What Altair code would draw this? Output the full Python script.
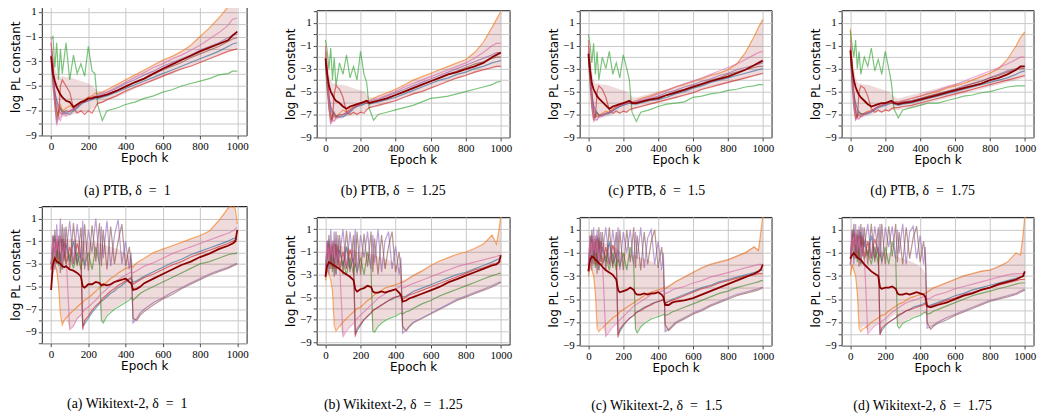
import math
import altair as alt
import pandas as pd

# ---------------- data ----------------
EPOCH_PTB = [0, 10, 20, 30, 40, 50, 60, 80, 100, 120, 140, 160, 180, 200, 220, 235, 250, 275,
             300, 350, 400, 450, 500, 550, 600, 650, 700, 750, 800, 850, 900, 950, 975, 1000]
EPOCH_WIKI = [0, 10, 20, 30, 40, 50, 60, 70, 80, 100, 120, 140, 160, 170, 180, 200, 220, 240,
              260, 270, 280, 300, 320, 340, 360, 380, 400, 420, 430, 440, 460, 480, 500, 550,
              600, 650, 700, 750, 800, 850, 900, 950, 975, 990, 1000]
RUNS = ["blue", "orange", "green", "red", "purple", "brown", "pink"]
RUN_COLORS = ["#1f77b4", "#ff7f0e", "#2ca02c", "#d62728", "#9467bd", "#8c564b", "#e377c2"]

PTB_A = dict(
    blue=[-3.0,-4.5,-5.5,-6.2,-6.6,-6.8,-7.0,-7.2,-7.3,-7.0,-6.8,-6.5,-6.3,-6.2,-6.1,-6.0,-6.0,-5.9,-5.8,-5.5,-5.2,-4.9,-4.6,-4.3,-4.0,-3.7,-3.4,-3.1,-2.8,-2.5,-2.2,-1.8,-1.6,-1.5],
    orange=[-1.5,-3.5,-6.0,-7.5,-7.0,-6.5,-7.0,-6.8,-6.6,-6.8,-6.5,-6.3,-6.1,-5.9,-5.8,-5.6,-5.6,-5.5,-5.3,-4.9,-4.5,-4.1,-3.7,-3.3,-2.9,-2.6,-2.2,-1.7,-1.0,-0.3,0.5,1.4,1.9,2.3],
    green=[-1.2,-1.0,-3.5,-1.5,-4.5,-2.0,-4.0,-1.5,-4.5,-2.5,-4.0,-3.2,-4.2,-1.8,-3.8,-4.0,-6.5,-7.8,-7.0,-6.8,-6.5,-6.3,-6.0,-5.8,-5.5,-5.3,-5.0,-4.8,-4.6,-4.4,-4.1,-4.0,-3.8,-3.8],
    red=[-1.5,-3.0,-6.0,-7.0,-7.5,-5.0,-4.5,-5.0,-5.5,-6.8,-7.2,-7.0,-7.3,-7.0,-7.2,-6.8,-6.4,-6.3,-6.1,-5.8,-5.4,-5.1,-4.8,-4.5,-4.2,-3.9,-3.6,-3.4,-3.1,-2.8,-2.5,-2.2,-2.1,-2.0],
    purple=[-2.0,-3.5,-5.5,-6.5,-7.0,-7.2,-7.3,-7.2,-7.0,-6.8,-6.6,-6.4,-6.2,-6.1,-6.0,-5.9,-5.8,-5.7,-5.5,-5.2,-4.8,-4.5,-4.1,-3.8,-3.4,-3.1,-2.8,-2.5,-2.1,-1.8,-1.5,-1.1,-0.9,-0.8],
    brown=[-2.5,-5.0,-6.5,-8.0,-7.0,-6.8,-7.2,-7.0,-7.1,-6.9,-6.7,-6.4,-6.3,-6.1,-6.0,-5.9,-5.9,-5.8,-5.7,-5.4,-5.0,-4.7,-4.4,-4.0,-3.7,-3.4,-3.1,-2.7,-2.4,-2.1,-1.8,-1.4,-1.2,-1.1],
    pink=[-1.0,-4.0,-6.5,-8.2,-7.5,-7.8,-7.2,-7.4,-7.0,-6.9,-6.6,-6.4,-6.2,-6.1,-5.9,-5.8,-5.7,-5.6,-5.5,-5.1,-4.7,-4.3,-3.9,-3.5,-3.2,-2.8,-2.5,-2.1,-1.7,-1.2,-0.7,-0.1,0.4,0.5],
    mean=[-2.6,-4.0,-4.6,-5.1,-5.4,-5.7,-5.9,-6.2,-6.3,-6.7,-6.5,-6.3,-6.2,-6.0,-6.0,-5.9,-5.9,-5.8,-5.7,-5.4,-5.05,-4.7,-4.4,-4.0,-3.6,-3.25,-2.9,-2.55,-2.2,-1.9,-1.6,-1.3,-0.9,-0.6],
    lo=[-3.5,-5.5,-7.0,-7.8,-7.8,-7.6,-7.5,-7.5,-7.4,-7.3,-7.2,-7.1,-7.1,-7.0,-6.9,-6.7,-6.5,-6.4,-6.2,-5.9,-5.6,-5.2,-4.9,-4.6,-4.3,-4.0,-3.7,-3.4,-3.1,-2.8,-2.5,-2.2,-2.1,-2.0],
    hi=[-1.5,-2.5,-3.5,-4.0,-4.3,-4.3,-4.2,-4.3,-4.3,-4.4,-4.5,-4.6,-4.7,-4.8,-5.0,-5.2,-5.4,-5.4,-5.3,-4.9,-4.5,-4.1,-3.7,-3.3,-2.9,-2.6,-2.2,-1.7,-1.0,-0.3,0.5,1.4,1.9,2.3],
)
PTB_B = dict(
    blue=[-2.5,-4.5,-5.5,-6.3,-6.7,-7.0,-7.1,-7.2,-7.2,-7.0,-6.8,-6.5,-6.3,-6.2,-6.1,-6.0,-6.1,-6.0,-5.9,-5.7,-5.5,-5.2,-4.9,-4.6,-4.3,-4.0,-3.8,-3.5,-3.3,-3.0,-2.8,-2.5,-2.4,-2.3],
    orange=[-1.0,-4.0,-6.5,-7.5,-7.3,-7.0,-7.2,-6.9,-6.6,-6.8,-6.5,-6.3,-6.2,-6.0,-5.9,-5.8,-5.8,-5.6,-5.4,-5.1,-4.8,-4.4,-4.0,-3.7,-3.4,-3.1,-2.8,-2.5,-2.2,-1.6,-0.7,0.6,1.3,2.0],
    green=[-0.5,-1.5,-3.0,-1.2,-4.0,-2.0,-4.5,-2.5,-3.5,-1.8,-3.8,-2.8,-4.0,-1.5,-3.5,-4.2,-6.5,-7.5,-7.0,-6.8,-6.6,-6.4,-6.2,-5.9,-5.6,-5.5,-5.4,-5.2,-5.0,-4.8,-4.6,-4.4,-4.2,-4.1],
    red=[-1.5,-3.0,-5.5,-7.0,-7.5,-5.2,-4.5,-4.8,-5.5,-6.8,-7.0,-6.8,-7.0,-6.8,-6.9,-6.6,-6.4,-6.3,-6.2,-6.0,-5.8,-5.5,-5.2,-5.0,-4.7,-4.4,-4.1,-3.8,-3.6,-3.3,-3.1,-2.9,-2.8,-2.8],
    purple=[-2.0,-3.5,-5.5,-6.5,-7.0,-7.2,-7.3,-7.2,-7.0,-6.8,-6.6,-6.4,-6.2,-6.1,-6.0,-5.9,-5.9,-5.8,-5.7,-5.4,-5.1,-4.8,-4.5,-4.2,-3.9,-3.6,-3.3,-3.0,-2.7,-2.4,-2.1,-1.8,-1.6,-1.6],
    brown=[-2.5,-5.0,-6.5,-7.8,-7.0,-6.8,-7.2,-7.0,-7.0,-6.9,-6.7,-6.4,-6.3,-6.1,-6.0,-6.0,-6.0,-5.9,-5.8,-5.6,-5.3,-5.0,-4.7,-4.4,-4.1,-3.8,-3.5,-3.2,-2.9,-2.6,-2.4,-2.1,-2.0,-2.0],
    pink=[-1.0,-3.5,-6.0,-7.8,-7.5,-7.6,-7.3,-7.2,-7.0,-6.9,-6.6,-6.4,-6.2,-6.1,-5.9,-5.8,-5.8,-5.7,-5.6,-5.3,-5.0,-4.6,-4.3,-4.0,-3.7,-3.4,-3.1,-2.8,-2.5,-2.1,-1.6,-1.0,-0.8,-0.8],
    mean=[-2.1,-3.5,-4.5,-5.0,-5.3,-5.6,-5.8,-6.0,-6.3,-6.5,-6.3,-6.2,-6.1,-6.0,-5.9,-5.8,-6.0,-5.9,-5.8,-5.6,-5.3,-5.0,-4.7,-4.4,-4.1,-3.8,-3.5,-3.3,-3.05,-2.8,-2.5,-2.0,-1.8,-1.6],
    lo=[-3.0,-5.0,-6.8,-7.6,-7.7,-7.6,-7.5,-7.4,-7.3,-7.2,-7.1,-7.0,-7.0,-6.9,-6.8,-6.6,-6.5,-6.4,-6.3,-6.1,-5.8,-5.5,-5.3,-5.0,-4.7,-4.4,-4.1,-3.9,-3.6,-3.4,-3.2,-3.0,-2.9,-2.9],
    hi=[-1.0,-2.0,-3.3,-4.0,-4.3,-4.3,-4.3,-4.4,-4.4,-4.5,-4.6,-4.7,-4.8,-4.9,-5.0,-5.2,-5.5,-5.5,-5.4,-5.1,-4.8,-4.4,-4.0,-3.7,-3.4,-3.1,-2.8,-2.5,-2.2,-1.6,-0.7,0.6,1.3,2.0],
)
PTB_C = dict(
    blue=[-2.0,-4.0,-5.3,-6.2,-6.6,-6.9,-7.0,-7.1,-7.0,-6.9,-6.7,-6.5,-6.3,-6.2,-6.1,-6.0,-6.1,-6.1,-6.0,-5.8,-5.7,-5.5,-5.2,-5.0,-4.7,-4.5,-4.2,-4.0,-3.8,-3.6,-3.4,-3.2,-3.1,-3.0],
    orange=[-0.5,-3.5,-6.0,-7.3,-7.2,-7.0,-7.1,-6.9,-6.7,-6.8,-6.5,-6.3,-6.2,-6.0,-5.9,-5.9,-5.9,-5.8,-5.6,-5.4,-5.1,-4.9,-4.6,-4.4,-4.1,-3.9,-3.6,-3.4,-3.1,-2.6,-1.6,-0.2,0.6,1.3],
    green=[0.0,-1.0,-2.5,-0.8,-3.5,-1.5,-4.0,-2.0,-3.0,-1.5,-3.5,-2.5,-3.8,-1.8,-3.0,-4.0,-6.8,-7.6,-6.8,-6.6,-6.3,-6.1,-6.0,-5.9,-5.5,-5.4,-5.2,-5.1,-4.9,-4.8,-4.6,-4.5,-4.4,-4.4],
    red=[-1.0,-2.5,-5.0,-6.8,-7.3,-5.0,-4.5,-4.8,-5.5,-6.6,-6.9,-6.7,-6.9,-6.7,-6.8,-6.6,-6.5,-6.4,-6.3,-6.1,-5.9,-5.7,-5.5,-5.3,-5.1,-4.8,-4.6,-4.4,-4.2,-4.0,-3.8,-3.6,-3.5,-3.4],
    purple=[-1.5,-3.5,-5.5,-6.5,-7.0,-7.2,-7.2,-7.1,-6.9,-6.8,-6.6,-6.4,-6.2,-6.1,-6.0,-6.0,-6.0,-5.9,-5.8,-5.6,-5.4,-5.1,-4.9,-4.6,-4.4,-4.1,-3.9,-3.6,-3.4,-3.1,-2.9,-2.7,-2.6,-2.5],
    brown=[-2.0,-4.5,-6.5,-7.5,-7.0,-6.8,-7.1,-7.0,-6.9,-6.8,-6.6,-6.4,-6.3,-6.1,-6.0,-6.0,-6.0,-6.0,-5.9,-5.7,-5.5,-5.3,-5.0,-4.8,-4.5,-4.3,-4.0,-3.8,-3.5,-3.3,-3.1,-2.9,-2.8,-2.8],
    pink=[-0.5,-3.0,-5.8,-7.6,-7.4,-7.5,-7.2,-7.1,-6.9,-6.8,-6.6,-6.4,-6.2,-6.1,-6.0,-5.9,-5.9,-5.8,-5.7,-5.5,-5.2,-4.9,-4.6,-4.3,-4.1,-3.8,-3.5,-3.2,-2.9,-2.6,-2.2,-1.8,-1.6,-1.5],
    mean=[-1.7,-3.2,-4.3,-4.8,-5.1,-5.4,-5.6,-5.9,-6.2,-6.5,-6.3,-6.2,-6.1,-6.0,-5.9,-5.8,-6.0,-6.0,-5.9,-5.7,-5.6,-5.3,-5.1,-4.85,-4.6,-4.35,-4.1,-3.9,-3.7,-3.4,-3.1,-2.7,-2.5,-2.3],
    lo=[-2.8,-4.8,-6.6,-7.5,-7.6,-7.5,-7.4,-7.3,-7.2,-7.1,-7.0,-6.9,-6.9,-6.8,-6.8,-6.6,-6.6,-6.5,-6.4,-6.2,-6.0,-5.8,-5.6,-5.4,-5.2,-4.9,-4.7,-4.5,-4.3,-4.1,-3.9,-3.7,-3.6,-3.5],
    hi=[-0.5,-1.8,-3.2,-4.0,-4.3,-4.3,-4.3,-4.4,-4.4,-4.5,-4.6,-4.7,-4.8,-4.9,-5.0,-5.2,-5.5,-5.5,-5.4,-5.2,-5.0,-4.8,-4.5,-4.3,-4.0,-3.8,-3.5,-3.3,-3.0,-2.5,-1.6,-0.2,0.6,1.3],
)
PTB_D = dict(
    blue=[-1.8,-4.0,-5.2,-6.0,-6.5,-6.8,-6.9,-7.0,-6.9,-6.8,-6.6,-6.4,-6.3,-6.2,-6.1,-6.0,-6.1,-6.2,-6.1,-6.0,-5.8,-5.6,-5.4,-5.2,-5.0,-4.8,-4.6,-4.4,-4.2,-4.0,-3.8,-3.5,-3.3,-3.2],
    orange=[0.5,-3.0,-5.8,-7.3,-7.2,-7.0,-7.1,-6.9,-6.7,-6.7,-6.5,-6.3,-6.2,-6.0,-5.9,-5.9,-5.9,-5.9,-5.8,-5.6,-5.4,-5.2,-5.0,-4.7,-4.5,-4.3,-4.0,-3.7,-3.4,-3.0,-2.2,-1.0,-0.3,0.2],
    green=[0.3,-1.0,-2.0,-0.5,-3.0,-1.5,-3.5,-2.0,-2.8,-1.2,-3.2,-2.2,-3.5,-1.5,-3.0,-4.2,-6.5,-7.3,-6.6,-6.4,-6.2,-6.0,-6.0,-5.8,-5.6,-5.4,-5.3,-5.1,-5.0,-4.8,-4.6,-4.5,-4.5,-4.5],
    red=[-1.0,-2.5,-5.0,-6.8,-7.3,-5.0,-4.5,-4.7,-5.4,-6.5,-6.8,-6.6,-6.8,-6.6,-6.7,-6.5,-6.4,-6.4,-6.3,-6.2,-6.0,-5.8,-5.6,-5.4,-5.2,-5.0,-4.8,-4.6,-4.4,-4.2,-4.0,-3.8,-3.7,-3.6],
    purple=[-1.2,-3.5,-5.5,-6.5,-7.0,-7.1,-7.2,-7.0,-6.9,-6.7,-6.5,-6.3,-6.2,-6.1,-6.0,-6.0,-6.0,-6.0,-5.9,-5.8,-5.6,-5.4,-5.2,-5.0,-4.8,-4.5,-4.3,-4.1,-3.8,-3.5,-3.2,-3.0,-2.9,-2.8],
    brown=[-1.5,-4.5,-6.5,-7.4,-7.0,-6.8,-7.0,-6.9,-6.8,-6.7,-6.5,-6.3,-6.2,-6.1,-6.0,-6.0,-6.0,-6.0,-5.9,-5.8,-5.6,-5.4,-5.2,-5.0,-4.8,-4.6,-4.3,-4.1,-3.8,-3.6,-3.3,-3.1,-3.0,-3.0],
    pink=[-0.5,-3.0,-5.8,-7.5,-7.3,-7.4,-7.2,-7.0,-6.8,-6.7,-6.5,-6.3,-6.2,-6.1,-6.0,-5.9,-5.9,-5.9,-5.8,-5.6,-5.4,-5.1,-4.9,-4.6,-4.4,-4.1,-3.8,-3.5,-3.2,-2.9,-2.6,-2.2,-2.0,-2.0],
    mean=[-1.4,-3.0,-4.0,-4.6,-5.0,-5.3,-5.5,-5.8,-6.1,-6.3,-6.2,-6.1,-6.0,-6.0,-5.9,-5.8,-6.0,-6.1,-6.0,-5.9,-5.7,-5.5,-5.3,-5.1,-4.9,-4.7,-4.5,-4.3,-4.0,-3.8,-3.5,-3.1,-2.8,-2.8],
    lo=[-2.5,-4.7,-6.5,-7.4,-7.5,-7.4,-7.3,-7.2,-7.1,-7.0,-6.9,-6.8,-6.8,-6.7,-6.7,-6.6,-6.6,-6.6,-6.5,-6.4,-6.2,-6.0,-5.8,-5.6,-5.4,-5.2,-5.0,-4.8,-4.6,-4.4,-4.2,-4.0,-3.9,-3.8],
    hi=[0.0,-1.6,-3.0,-3.8,-4.2,-4.3,-4.3,-4.4,-4.4,-4.5,-4.6,-4.7,-4.8,-4.9,-5.0,-5.2,-5.5,-5.6,-5.5,-5.3,-5.1,-4.9,-4.7,-4.5,-4.3,-4.1,-3.9,-3.6,-3.3,-2.9,-2.2,-1.0,-0.3,0.2],
)

WIKI_A = dict(
    blue=[-3.0,-1.5,-0.5,-2.5,-1.0,-3.0,-0.8,-2.5,-1.2,-2.8,-1.0,-3.0,-2.0,-8.5,-8.3,-7.8,-7.3,-6.9,-6.5,-6.3,-6.2,-5.9,-5.6,-5.4,-5.1,-4.9,-4.6,-4.4,-4.3,-4.6,-4.5,-4.3,-4.1,-3.7,-3.3,-2.9,-2.6,-2.2,-1.9,-1.6,-1.3,-1.0,-0.8,-0.7,-0.6],
    orange=[-3.0,-2.5,-3.0,-3.5,-5.0,-7.5,-8.4,-8.0,-7.8,-7.4,-7.1,-6.8,-6.5,-6.4,-6.2,-6.0,-5.7,-5.4,-5.1,-5.0,-4.9,-4.6,-4.3,-4.1,-3.8,-3.6,-3.4,-3.3,-3.2,-3.3,-2.9,-2.7,-2.5,-2.0,-1.7,-1.4,-1.1,-0.8,-0.5,-0.1,0.8,1.9,2.2,1.8,0.5],
    green=[-3.0,-1.5,-3.0,-1.8,-3.2,-2.0,-3.5,-1.5,-3.0,-2.2,-3.4,-2.0,-3.5,-2.5,-3.2,-2.0,-3.5,-1.5,-3.0,-8.0,-8.2,-7.6,-7.3,-7.0,-6.8,-6.6,-6.4,-6.2,-6.0,-6.2,-5.9,-5.6,-5.4,-5.0,-4.6,-4.2,-3.8,-3.4,-3.0,-2.8,-2.5,-2.2,-2.1,-2.1,-2.0],
    red=[-3.5,-0.5,-2.0,-1.0,-3.0,-0.5,-2.0,-1.0,-3.0,-1.5,-3.0,-1.2,-2.5,-8.8,-8.0,-7.6,-7.1,-6.7,-6.4,-6.2,-6.0,-5.7,-5.4,-5.2,-4.9,-4.7,-4.5,-4.3,-4.2,-4.8,-4.6,-4.4,-4.2,-3.9,-3.5,-3.1,-2.8,-2.4,-2.1,-1.8,-1.5,-1.2,-1.0,-0.9,-0.8],
    purple=[-3.0,-0.5,-3.5,0.5,-2.5,1.0,-3.5,0.2,-2.0,0.8,-3.0,0.5,-2.5,0.8,-3.5,0.0,-2.0,1.0,-3.0,0.3,-2.5,0.8,-3.2,-0.5,0.9,-3.0,-1.0,-3.5,-2.0,-8.2,-7.8,-7.3,-7.0,-6.4,-6.0,-5.5,-5.1,-4.7,-4.3,-3.9,-3.6,-3.3,-3.1,-3.0,-3.0],
    brown=[-3.5,-2.0,0.0,-3.0,-0.5,-3.8,0.5,-2.8,0.3,-3.5,0.6,-3.2,0.2,-2.8,0.5,-3.6,0.4,-2.8,0.6,-3.2,0.0,-3.5,0.3,-3.0,-1.0,0.5,-3.2,-1.5,-3.0,-7.8,-8.0,-7.5,-7.2,-6.6,-6.1,-5.7,-5.2,-4.8,-4.4,-4.0,-3.7,-3.4,-3.2,-3.1,-3.0],
    pink=[-3.0,-1.0,-2.5,-0.5,-2.0,-1.0,-3.0,-1.5,-2.0,-8.8,-8.5,-7.8,-7.5,-7.3,-7.0,-6.8,-6.5,-6.2,-5.8,-5.6,-5.5,-5.2,-4.9,-4.6,-4.4,-4.2,-4.0,-3.8,-3.7,-3.8,-3.6,-3.4,-3.2,-2.9,-2.5,-2.1,-1.8,-1.5,-1.2,-0.9,-0.6,-0.3,-0.1,0.1,0.2],
    mean=[-5.3,-3.0,-2.5,-2.8,-2.9,-3.0,-3.2,-3.3,-3.2,-3.5,-3.6,-3.8,-4.1,-5.0,-5.1,-4.8,-4.8,-4.6,-4.7,-4.9,-4.8,-4.9,-4.8,-4.6,-4.5,-4.4,-4.3,-4.6,-4.7,-5.3,-5.2,-5.0,-4.7,-4.3,-3.9,-3.5,-3.1,-2.8,-2.4,-2.1,-1.7,-1.4,-1.2,-1.0,0.0],
    lo=[-5.5,-4.0,-3.5,-3.8,-5.0,-7.3,-8.3,-8.0,-7.8,-8.7,-8.5,-7.9,-7.6,-8.6,-8.2,-7.7,-7.2,-6.8,-6.5,-7.9,-8.1,-7.5,-7.2,-6.9,-6.7,-6.5,-6.3,-6.1,-6.0,-8.0,-7.9,-7.4,-7.1,-6.5,-6.0,-5.6,-5.1,-4.7,-4.3,-3.9,-3.6,-3.3,-3.1,-3.0,-3.0],
    hi=[-4.5,-1.0,-0.8,-0.8,-0.8,-0.8,-0.8,-0.8,-0.8,-0.8,-0.8,-0.9,-1.0,-1.0,-1.0,-1.1,-1.1,-1.1,-1.2,-1.2,-1.3,-1.4,-1.5,-1.6,-1.7,-1.9,-2.1,-2.3,-2.5,-3.1,-2.9,-2.7,-2.5,-2.0,-1.7,-1.4,-1.1,-0.8,-0.5,-0.1,0.8,1.9,2.2,1.8,0.5],
)
WIKI_B = dict(
    blue=[-2.5,-1.0,0.0,-2.0,-0.5,-2.5,-0.3,-2.0,-0.8,-2.3,-0.5,-2.5,-1.5,-8.3,-8.0,-7.5,-7.0,-6.7,-6.4,-6.2,-6.1,-5.9,-5.7,-5.5,-5.3,-5.2,-5.0,-4.9,-4.8,-5.0,-4.9,-4.7,-4.5,-4.2,-3.9,-3.6,-3.3,-3.0,-2.8,-2.5,-2.2,-1.9,-1.7,-1.6,-1.5],
    orange=[-3.5,-2.5,-3.0,-3.5,-4.5,-7.5,-8.0,-7.8,-7.6,-7.2,-6.9,-6.6,-6.3,-6.2,-6.0,-5.9,-5.6,-5.3,-5.1,-4.9,-4.8,-4.6,-4.4,-4.2,-4.1,-4.0,-3.9,-3.8,-3.7,-3.7,-3.5,-3.3,-3.1,-2.7,-2.2,-1.8,-1.5,-1.2,-1.0,-0.7,-0.3,0.5,-0.3,1.0,2.2],
    green=[-2.5,-1.0,-2.5,-1.2,-2.8,-1.5,-3.0,-1.0,-2.5,-1.8,-3.0,-1.5,-3.0,-2.0,-2.8,-1.5,-3.0,-1.0,-2.5,-8.0,-8.1,-7.6,-7.3,-7.1,-6.9,-6.8,-6.7,-6.5,-6.4,-6.5,-6.3,-6.2,-6.0,-5.6,-5.3,-4.9,-4.6,-4.3,-4.0,-3.7,-3.4,-3.1,-3.0,-2.9,-2.9],
    red=[-3.0,0.0,-1.5,-0.5,-2.5,0.0,-1.5,-0.5,-2.5,-1.0,-2.5,-0.8,-2.0,-8.5,-7.8,-7.4,-7.0,-6.7,-6.4,-6.2,-6.1,-5.9,-5.7,-5.5,-5.3,-5.1,-5.0,-4.9,-4.8,-5.2,-5.0,-4.8,-4.7,-4.4,-4.1,-3.8,-3.5,-3.2,-2.9,-2.6,-2.4,-2.1,-2.0,-1.9,-1.8],
    purple=[-2.5,0.0,-3.0,1.0,-2.0,0.8,-3.0,0.5,-1.5,1.0,-2.5,0.8,-2.0,1.0,-3.0,0.5,-1.5,0.8,-2.5,0.5,-2.0,1.0,-2.8,0.0,0.8,-2.5,-0.5,-3.0,-1.5,-8.2,-7.9,-7.5,-7.2,-6.8,-6.4,-6.0,-5.6,-5.2,-4.9,-4.6,-4.3,-4.0,-3.8,-3.7,-3.7],
    brown=[-3.0,-1.5,0.5,-2.5,0.0,-3.2,0.8,-2.3,0.5,-3.0,0.9,-2.8,0.5,-2.3,0.8,-3.0,0.6,-2.3,0.8,-2.8,0.2,-3.0,0.5,-2.5,-0.5,0.8,-2.8,-1.0,-2.5,-7.6,-8.0,-7.6,-7.3,-6.9,-6.5,-6.1,-5.7,-5.3,-5.0,-4.7,-4.4,-4.1,-3.9,-3.8,-3.7],
    pink=[-2.5,-0.5,-2.0,0.0,-1.5,-0.5,-2.5,-1.0,-1.8,-8.5,-8.0,-7.6,-7.3,-7.1,-6.9,-6.6,-6.3,-6.0,-5.7,-5.6,-5.4,-5.1,-4.9,-4.7,-4.5,-4.4,-4.3,-4.1,-4.0,-4.2,-4.1,-3.9,-3.8,-3.5,-3.2,-2.9,-2.6,-2.3,-2.1,-1.9,-1.7,-1.5,-1.4,-1.3,-1.3],
    mean=[-3.2,-2.2,-1.9,-2.0,-2.1,-2.2,-2.3,-2.4,-2.5,-2.8,-3.0,-3.2,-3.5,-4.3,-4.5,-4.3,-4.2,-4.0,-4.1,-4.5,-4.6,-4.6,-4.5,-4.6,-4.5,-4.4,-4.3,-4.6,-4.8,-5.4,-5.3,-5.1,-5.0,-4.7,-4.4,-4.1,-3.7,-3.4,-3.1,-2.8,-2.5,-2.2,-2.1,-1.9,-1.3],
    lo=[-4.0,-3.0,-2.8,-3.3,-4.5,-7.3,-7.9,-7.7,-7.5,-8.4,-7.9,-7.5,-7.2,-8.2,-7.8,-7.4,-6.9,-6.6,-6.3,-7.9,-8.0,-7.5,-7.2,-7.0,-6.8,-6.7,-6.6,-6.4,-6.3,-8.0,-7.8,-7.4,-7.1,-6.7,-6.3,-5.9,-5.5,-5.2,-4.9,-4.6,-4.3,-4.0,-3.8,-3.7,-3.7],
    hi=[-2.5,-0.5,-0.3,-0.3,-0.3,-0.3,-0.3,-0.4,-0.4,-0.5,-0.6,-0.7,-0.8,-0.9,-1.0,-1.0,-1.1,-1.1,-1.2,-1.2,-1.3,-1.4,-1.5,-1.6,-1.7,-1.9,-2.1,-2.4,-2.7,-3.5,-3.4,-3.2,-3.0,-2.6,-2.2,-1.8,-1.5,-1.2,-1.0,-0.7,-0.3,0.5,-0.3,1.0,2.2],
)
WIKI_C = dict(
    blue=[-2.0,-0.5,0.5,-1.5,0.0,-2.0,0.3,-1.5,-0.5,-1.8,0.0,-2.0,-1.0,-8.0,-7.8,-7.3,-6.9,-6.6,-6.4,-6.2,-6.1,-5.9,-5.7,-5.6,-5.4,-5.3,-5.2,-5.1,-5.0,-5.3,-5.2,-5.0,-4.9,-4.6,-4.3,-4.0,-3.8,-3.5,-3.3,-3.1,-2.9,-2.7,-2.6,-2.5,-2.5],
    orange=[-3.0,-2.0,-2.5,-3.0,-4.5,-7.5,-7.8,-7.6,-7.5,-7.2,-6.9,-6.6,-6.4,-6.3,-6.1,-5.9,-5.7,-5.5,-5.3,-5.2,-5.1,-4.9,-4.7,-4.5,-4.4,-4.3,-4.2,-4.1,-4.0,-4.1,-3.9,-3.7,-3.5,-3.1,-2.7,-2.3,-2.0,-1.8,-1.6,-1.3,-1.0,-0.5,-0.8,1.0,2.2],
    green=[-2.0,-0.5,-2.0,-0.8,-2.3,-1.0,-2.5,-0.5,-2.0,-1.2,-2.5,-1.0,-2.5,-1.5,-2.2,-1.0,-2.5,-0.5,-2.0,-7.6,-7.9,-7.4,-7.1,-6.9,-6.7,-6.6,-6.5,-6.4,-6.3,-6.4,-6.3,-6.1,-6.0,-5.7,-5.4,-5.1,-4.8,-4.5,-4.3,-4.0,-3.8,-3.6,-3.5,-3.4,-3.4],
    red=[-2.5,0.5,-1.0,0.0,-2.0,0.5,-1.0,0.0,-2.0,-0.5,-2.0,-0.3,-1.5,-8.3,-7.6,-7.2,-6.9,-6.6,-6.4,-6.2,-6.1,-6.0,-5.8,-5.6,-5.5,-5.3,-5.2,-5.1,-5.0,-5.4,-5.2,-5.1,-5.0,-4.7,-4.4,-4.1,-3.9,-3.6,-3.4,-3.2,-3.0,-2.9,-2.8,-2.8,-2.8],
    purple=[-2.0,0.5,-2.5,1.2,-1.5,1.0,-2.5,0.8,-1.0,1.2,-2.0,1.0,-1.5,1.2,-2.5,0.8,-1.0,1.0,-2.0,0.8,-1.5,1.2,-2.3,0.3,1.0,-2.0,0.0,-2.5,-1.0,-7.8,-7.6,-7.3,-7.0,-6.6,-6.2,-5.9,-5.5,-5.2,-4.9,-4.6,-4.4,-4.2,-4.1,-4.0,-4.0],
    brown=[-2.5,-1.0,1.0,-2.0,0.5,-2.8,1.2,-1.8,0.8,-2.5,1.2,-2.3,0.8,-1.8,1.0,-2.5,1.0,-1.8,1.2,-2.3,0.5,-2.5,0.8,-2.0,0.0,1.0,-2.3,-0.5,-2.0,-7.2,-7.7,-7.4,-7.1,-6.7,-6.3,-6.0,-5.6,-5.3,-5.0,-4.7,-4.5,-4.3,-4.2,-4.1,-4.0],
    pink=[-2.0,0.0,-1.5,0.5,-1.0,0.0,-2.0,-0.5,-1.5,-8.2,-7.8,-7.4,-7.1,-6.9,-6.8,-6.5,-6.2,-5.9,-5.6,-5.5,-5.4,-5.2,-5.0,-4.8,-4.6,-4.5,-4.4,-4.3,-4.2,-4.5,-4.4,-4.2,-4.1,-3.9,-3.6,-3.4,-3.1,-2.9,-2.7,-2.5,-2.3,-2.1,-2.0,-2.0,-2.0],
    mean=[-2.6,-1.6,-1.3,-1.4,-1.6,-1.7,-1.9,-2.0,-2.2,-2.5,-2.7,-2.9,-3.3,-4.2,-4.4,-4.3,-4.2,-4.0,-4.2,-4.5,-4.6,-4.6,-4.5,-4.6,-4.5,-4.5,-4.4,-4.6,-4.8,-5.5,-5.5,-5.3,-5.2,-5.1,-4.9,-4.6,-4.3,-4.0,-3.7,-3.4,-3.1,-2.8,-2.6,-2.4,-2.0],
    lo=[-3.5,-2.5,-2.5,-3.0,-4.5,-7.3,-7.7,-7.5,-7.4,-8.1,-7.7,-7.3,-7.0,-7.9,-7.7,-7.2,-6.8,-6.5,-6.3,-7.5,-7.8,-7.3,-7.0,-6.8,-6.6,-6.5,-6.4,-6.3,-6.2,-7.7,-7.6,-7.3,-7.0,-6.6,-6.2,-5.9,-5.5,-5.2,-4.9,-4.6,-4.4,-4.2,-4.1,-4.0,-4.0],
    hi=[-1.8,0.0,0.2,0.2,0.2,0.2,0.1,0.0,-0.1,-0.2,-0.3,-0.4,-0.6,-0.8,-0.9,-1.0,-1.1,-1.1,-1.2,-1.2,-1.3,-1.4,-1.5,-1.6,-1.7,-1.9,-2.1,-2.4,-2.7,-3.9,-3.8,-3.6,-3.4,-3.0,-2.6,-2.2,-1.9,-1.7,-1.5,-1.2,-0.9,-0.4,-0.7,1.0,2.2],
)
WIKI_D = dict(
    blue=[-1.5,0.0,1.0,-1.0,0.5,-1.5,0.8,-1.0,0.0,-1.3,0.5,-1.5,-0.5,-8.0,-7.7,-7.3,-7.0,-6.8,-6.6,-6.5,-6.4,-6.2,-6.0,-5.9,-5.7,-5.6,-5.5,-5.4,-5.3,-5.6,-5.5,-5.4,-5.3,-5.0,-4.7,-4.5,-4.2,-4.0,-3.8,-3.6,-3.4,-3.2,-3.1,-3.0,-3.0],
    orange=[-3.0,-2.0,-2.5,-3.0,-4.5,-7.5,-7.8,-7.6,-7.5,-7.3,-7.0,-6.8,-6.6,-6.5,-6.4,-6.3,-6.0,-5.8,-5.6,-5.5,-5.4,-5.3,-5.1,-4.9,-4.8,-4.7,-4.6,-4.5,-4.5,-4.4,-4.2,-4.0,-3.9,-3.6,-3.3,-3.0,-2.8,-2.6,-2.5,-2.2,-1.8,-1.0,-1.2,0.5,2.2],
    green=[-1.5,0.0,-1.5,-0.3,-1.8,-0.5,-2.0,0.0,-1.5,-0.8,-2.0,-0.5,-2.0,-1.0,-1.8,-0.5,-2.0,0.0,-1.5,-7.3,-7.5,-7.1,-6.9,-6.8,-6.6,-6.5,-6.4,-6.2,-6.1,-6.3,-6.2,-6.0,-5.9,-5.6,-5.3,-5.0,-4.7,-4.5,-4.3,-4.1,-3.9,-3.7,-3.6,-3.6,-3.6],
    red=[-2.0,1.0,-0.5,0.5,-1.5,1.0,-0.5,0.5,-1.5,0.0,-1.5,0.2,-1.0,-8.1,-7.5,-7.2,-7.0,-6.8,-6.6,-6.4,-6.3,-6.2,-6.0,-5.9,-5.8,-5.7,-5.6,-5.5,-5.4,-5.7,-5.6,-5.5,-5.4,-5.1,-4.9,-4.6,-4.4,-4.2,-4.0,-3.8,-3.6,-3.4,-3.3,-3.3,-3.3],
    purple=[-1.5,1.0,-2.0,1.5,-1.0,1.3,-2.0,1.2,-0.5,1.5,-1.5,1.3,-1.0,1.5,-2.0,1.2,-0.5,1.3,-1.5,1.0,-1.0,1.5,-2.0,0.8,1.3,-1.5,0.5,-2.0,-0.5,-7.5,-7.4,-7.2,-7.0,-6.6,-6.3,-6.0,-5.7,-5.4,-5.1,-4.9,-4.7,-4.5,-4.3,-4.2,-4.2],
    brown=[-2.0,-0.5,1.5,-1.5,1.0,-2.2,1.5,-1.3,1.2,-2.0,1.5,-1.8,1.2,-1.3,1.5,-2.0,1.3,-1.3,1.5,-1.8,0.8,-2.0,1.2,-1.5,0.3,1.3,-1.8,0.0,-1.5,-7.0,-7.6,-7.3,-7.1,-6.8,-6.4,-6.1,-5.8,-5.5,-5.2,-5.0,-4.8,-4.6,-4.4,-4.3,-4.2],
    pink=[-2.0,0.3,-1.2,0.8,-0.8,0.3,-1.5,-0.3,-1.2,-8.0,-7.6,-7.3,-7.1,-7.0,-6.9,-6.7,-6.4,-6.1,-5.9,-5.8,-5.7,-5.5,-5.3,-5.2,-5.1,-5.0,-4.9,-4.8,-4.7,-5.0,-4.9,-4.7,-4.6,-4.4,-4.1,-3.9,-3.7,-3.5,-3.3,-3.1,-2.9,-2.8,-2.8,-2.8,-2.8],
    mean=[-1.5,-1.2,-1.0,-1.2,-1.4,-1.5,-1.6,-1.8,-2.0,-2.3,-2.6,-2.8,-3.0,-4.0,-4.1,-4.0,-4.0,-3.9,-4.1,-4.5,-4.6,-4.6,-4.5,-4.6,-4.5,-4.4,-4.5,-4.6,-4.8,-5.6,-5.7,-5.6,-5.5,-5.3,-5.0,-4.7,-4.5,-4.2,-4.0,-3.7,-3.5,-3.3,-3.1,-3.0,-2.6],
    lo=[-3.0,-2.3,-2.5,-3.0,-4.5,-7.3,-7.6,-7.4,-7.3,-7.8,-7.5,-7.2,-7.0,-7.8,-7.5,-7.1,-6.8,-6.5,-6.3,-7.1,-7.3,-7.0,-6.8,-6.7,-6.5,-6.4,-6.3,-6.2,-6.1,-7.3,-7.4,-7.2,-7.0,-6.7,-6.3,-6.0,-5.7,-5.4,-5.1,-4.9,-4.7,-4.5,-4.3,-4.2,-4.2],
    hi=[-0.5,0.5,0.7,0.7,0.6,0.5,0.4,0.3,0.2,0.0,-0.2,-0.4,-0.6,-0.8,-0.9,-1.0,-1.1,-1.1,-1.2,-1.3,-1.4,-1.5,-1.6,-1.7,-1.8,-2.0,-2.2,-2.5,-2.8,-4.0,-4.0,-3.9,-3.8,-3.5,-3.2,-2.9,-2.7,-2.5,-2.4,-2.1,-1.8,-1.0,-1.2,0.5,2.2],
)

CAPTIONS_PTB = ["(a) PTB, \u03b4\u2002=\u20021", "(b) PTB, \u03b4\u2002=\u20021.25",
                "(c) PTB, \u03b4\u2002=\u20021.5", "(d) PTB, \u03b4\u2002=\u20021.75"]
CAPTIONS_WIKI = ["(a) Wikitext-2, \u03b4\u2002=\u20021", "(b) Wikitext-2, \u03b4\u2002=\u20021.25",
                 "(c) Wikitext-2, \u03b4\u2002=\u20021.5", "(d) Wikitext-2, \u03b4\u2002=\u20021.75"]
X_TICKS = [0, 200, 400, 600, 800, 1000]

DARKRED = "#8b0000"


def panel(epochs, d, width, height, ydom, caption, dx, offset):
    for k, v in d.items():
        if len(v) != len(epochs):
            raise ValueError(f"{caption}: series {k} has {len(v)} values, expected {len(epochs)}")
    rows = []
    for r in RUNS:
        for e, v in zip(epochs, d[r]):
            rows.append({"epoch": e, "run": r, "v": v})
    runs_df = pd.DataFrame(rows)
    stat_df = pd.DataFrame({"epoch": epochs, "mean": d["mean"], "lo": d["lo"], "hi": d["hi"]})

    xs = alt.Scale(domain=[-50, 1050], nice=False, zero=False)
    xax = alt.Axis(values=X_TICKS, format="d", title="Epoch k")
    ys = alt.Scale(domain=ydom, nice=False, zero=False)
    yticks = list(range(math.ceil(ydom[0]), math.floor(ydom[1]) + 1))
    yax = alt.Axis(values=yticks, title="log PL constant",
                   labelExpr="datum.value % 2 == 0 ? '' : datum.label")

    lines = alt.Chart(runs_df).mark_line(strokeWidth=1.2, opacity=0.62, clip=True).encode(
        x=alt.X("epoch:Q", scale=xs, axis=xax),
        y=alt.Y("v:Q", scale=ys, axis=yax),
        color=alt.Color("run:N", scale=alt.Scale(domain=RUNS, range=RUN_COLORS), legend=None),
    )
    band = alt.Chart(stat_df).mark_area(color=DARKRED, opacity=0.14, clip=True).encode(
        x=alt.X("epoch:Q", scale=xs, axis=xax),
        y=alt.Y("lo:Q", scale=ys, axis=yax),
        y2="hi:Q",
    )
    mean = alt.Chart(stat_df).mark_line(color=DARKRED, strokeWidth=1.8, clip=True).encode(
        x=alt.X("epoch:Q", scale=xs, axis=xax),
        y=alt.Y("mean:Q", scale=ys, axis=yax),
    )
    return alt.layer(lines, band, mean).properties(
        width=width, height=height,
        title=alt.TitleParams(text=caption, orient="bottom", anchor="middle", frame="group",
                              font="Liberation Serif", fontSize=14, fontWeight="normal",
                              color="#000", dx=dx, offset=offset),
    )


def spacer(w, h):
    return alt.Chart(pd.DataFrame({"s": [0]})).mark_point(opacity=0).encode(
        x=alt.X("s:Q", axis=None), y=alt.Y("s:Q", axis=None)
    ).properties(width=w, height=h, view=alt.ViewBackground(stroke="transparent"))


W = [206, 194, 193, 193]
ptb = [
    panel(EPOCH_PTB, PTB_A, W[0], 138, [-9, 2.1], CAPTIONS_PTB[0], -17, 20),
    panel(EPOCH_PTB, PTB_B, W[1], 128, [-9, 2.1], CAPTIONS_PTB[1], -20, 18),
    panel(EPOCH_PTB, PTB_C, W[2], 128, [-9, 2.1], CAPTIONS_PTB[2], -19, 18),
    panel(EPOCH_PTB, PTB_D, W[3], 128, [-9, 2.1], CAPTIONS_PTB[3], -15, 18),
]
wiki = [
    panel(EPOCH_WIKI, WIKI_A, W[0], 138, [-10, 2.1], CAPTIONS_WIKI[0], -17, 26),
    panel(EPOCH_WIKI, WIKI_B, W[1], 128.3, [-9.2, 2.1], CAPTIONS_WIKI[1], -20, 25),
    panel(EPOCH_WIKI, WIKI_C, W[2], 129.3, [-9, 2.1], CAPTIONS_WIKI[2], -19, 25),
    panel(EPOCH_WIKI, WIKI_D, W[3], 129.3, [-9, 2.1], CAPTIONS_WIKI[3], -15, 25),
]

col_a = alt.vconcat(ptb[0], spacer(W[0], 71), wiki[0], spacing=0, bounds="flush")
cols = [col_a]
for i in (1, 2, 3):
    cols.append(alt.vconcat(spacer(W[i], 12), ptb[i], spacer(W[i], 79.7), wiki[i],
                            spacing=0, bounds="flush"))

chart = alt.hconcat(*cols, spacing=34.5).properties(
    padding={"left": 1, "top": -12, "right": 0, "bottom": 0},
    background="white",
).configure_axis(
    labelFont="Liberation Serif", labelFontSize=11, labelColor="#000",
    titleFont="DejaVu Sans", titleFontSize=12, titleFontWeight="normal", titleColor="#000",
    tickSize=3.5, tickColor="#222", tickWidth=0.8, domain=False,
    grid=True, gridColor="#c8c8c8", gridWidth=1, labelPadding=2, labelFlush=False,
).configure_axisX(titlePadding=1).configure_axisY(titlePadding=2).configure_view(
    stroke="#222", strokeWidth=1
)

chart.save("out.html", embed_options={"renderer": "svg", "actions": False})
